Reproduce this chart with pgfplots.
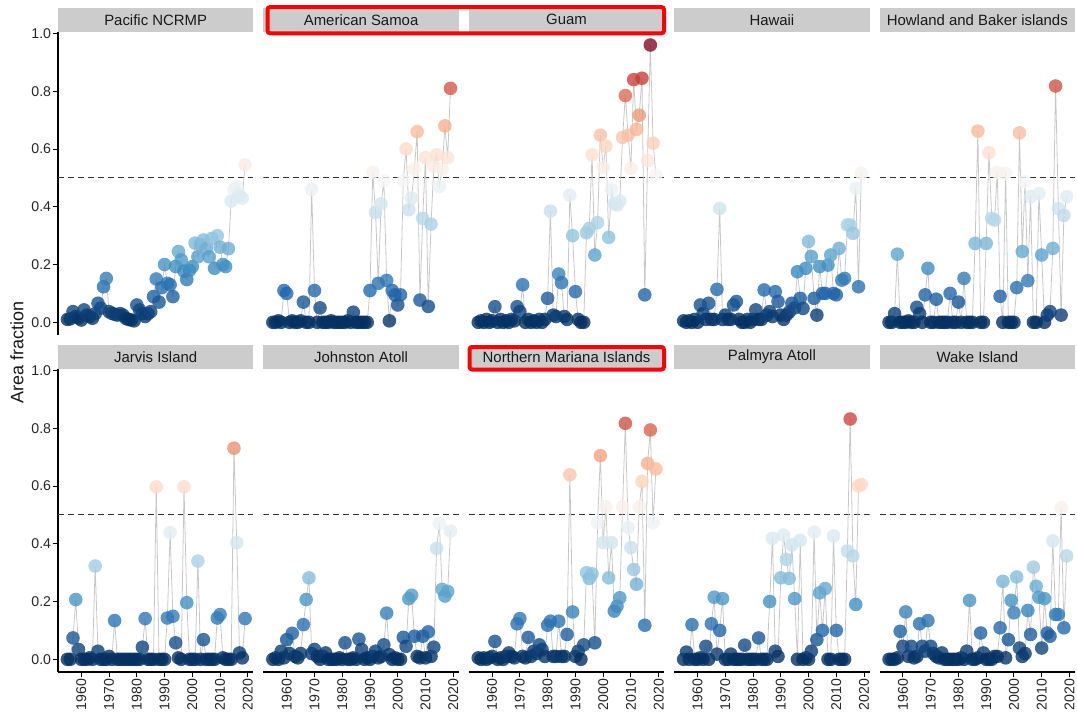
\documentclass[border=0pt]{standalone}
\usepackage{fontspec}
\setmainfont{Liberation Sans}
\usepackage{pgfplots}
\usepackage{pgfplotstable}
\pgfplotsset{compat=1.18}
\definecolor{stripgray}{RGB}{204,204,204}
\pgfplotsset{colormap={rdbu}{rgb255=(5,48,97) rgb255=(33,102,172) rgb255=(67,147,195) rgb255=(146,197,222) rgb255=(209,229,240) rgb255=(247,247,247) rgb255=(253,219,199) rgb255=(244,165,130) rgb255=(214,96,77) rgb255=(178,24,43) rgb255=(103,0,31)}}
\pgfplotstableread{
year pac ams gua haw how jar joh nmi pal wak
1955 .01 0 0 .005 0 0 0 .005 0 0
1956 .012 0 .005 0 0 0 .005 0 .025 0
1957 .037 .005 0 .005 .03 .074 0 .005 0 0
1958 .02 0 .01 0 .236 .207 .028 0 .12 .005
1959 .015 .11 0 .01 0 .034 .005 .005 0 .097
1960 .008 .10 .005 0 0 0 .068 .01 0 .045
1961 .043 0 .054 .06 0 0 .02 .062 .005 .164
1962 .025 .005 0 .03 .005 0 .09 0 0 .01
1963 .02 0 .01 .01 0 .005 .01 .005 .045 .045
1964 .014 0 0 .066 0 0 .005 0 0 .005
1965 .03 .005 .005 .01 .052 .323 .02 .01 .123 .01
1966 .066 .07 0 .01 .03 .028 .12 .022 .215 .123
1967 .049 0 .01 .114 0 0 .207 .01 .018 .045
1968 .123 0 .005 .394 .095 0 .282 .005 .1 .028
1969 .152 .46 .054 .01 .187 0 .02 .123 .21 .134
1970 .037 .11 .037 .025 0 .01 .034 .141 0 .045
1971 .031 0 .13 .01 0 0 .01 .01 0 .02
1972 .028 .05 0 .01 .08 .134 0 .005 .018 .01
1973 .025 0 .01 .06 0 0 .01 .076 0 .005
1974 .03 0 0 .072 0 0 .022 .01 0 .022
1975 .025 0 .005 .01 0 0 0 .028 0 0
1976 .014 .005 0 0 0 0 0 .02 0 0
1977 .01 0 .01 0 .1 0 0 .05 .049 0
1978 .008 0 0 .01 0 0 0 .034 0 0
1979 .005 0 .01 0 0 0 .005 .01 0 0
1980 .06 0 .083 .01 .07 0 0 .118 0 0
1981 .043 0 .385 .043 0 0 .057 .132 0 .005
1982 .03 .005 .025 .01 .152 .042 0 .01 .074 0
1983 .02 0 .02 .01 0 .141 0 .01 0 .028
1984 .03 .035 .167 .112 0 0 .005 .132 0 .204
1985 .037 0 .137 .025 0 0 0 .01 0 0
1986 .089 0 .02 .037 .273 0 .07 .01 .2 0
1987 .15 0 .01 .02 .662 .597 .034 .086 .419 .005
1988 .07 0 .44 .106 0 0 0 .639 .028 .091
1989 .12 0 .3 .072 0 0 .005 .164 .01 .022
1990 .2 .11 .106 .025 .273 0 0 .01 .282 0
1991 .135 .52 .01 .01 .587 .143 .01 .028 .43 0
1992 .13 .38 0 .025 .36 .439 .028 0 .346 0
1993 .089 .135 0 .035 .354 .149 .005 .05 .28 .01
1994 .193 .41 .31 .066 .52 .057 .01 .3 .396 .01
1995 .245 .49 .325 .05 .09 .005 .05 .28 .21 .109
1996 .216 .145 .58 .175 0 0 .16 .296 0 .27
1997 .177 .005 .233 .083 .516 .597 .016 .057 .412 .005
1998 .148 .11 .345 .048 0 .196 0 .473 0 .068
1999 .18 .095 .648 .187 0 0 .005 .705 .005 .204
2000 .193 .06 .537 .28 0 0 0 .404 0 .161
2001 .274 .095 .61 .228 .12 0 0 .528 .028 .285
2002 .227 .49 .294 .083 .656 .34 .076 .282 .44 .039
2003 .27 .6 .46 .025 .245 0 .045 .404 .068 .01
2004 .285 .39 .41 .193 .487 .068 .21 .167 .23 .02
2005 .255 .43 .406 .1 .144 0 .222 .184 .1 .169
2006 .227 .53 .42 .1 .435 0 .08 .213 .245 .086
2007 .29 .66 .64 .198 0 0 .01 .528 0 .319
2008 .187 .077 .785 .233 0 0 .005 .817 0 .253
2009 .3 .36 .648 .1 .446 .143 .08 .456 .427 .215
2010 .26 .57 .533 .095 .233 .155 .005 .387 .1 .039
2011 .2 .055 .84 .256 0 .005 .095 .311 0 .21
2012 .193 .34 .668 .146 .025 0 .01 .26 0 .091
2013 .255 .54 .717 .152 .037 0 .042 .528 0 .08
2014 .42 .58 .845 .337 .256 0 .384 .616 .375 .41
2015 .46 .47 .095 .337 .818 .731 .47 .118 .832 .155
2016 .47 .53 .56 .308 .394 .404 .242 .678 .358 .155
2017 .44 .68 .96 .464 .025 .022 .219 .794 .19 .525
2018 .43 .57 .62 .123 .37 .005 .235 .473 .6 .109
2019 .545 .81 .51 .516 .435 .141 .444 .659 .605 .358
}\datatbl

\pgfplotsset{
  panel/.style={
    scale only axis, width=146.55pt, height=227.25pt,
    xmin=1951.6, xmax=2022, ymin=-0.044, ymax=1.005,
    axis x line*=bottom, axis y line*=left,
    axis line style={black, line width=0.9pt},
    tick align=outside, major tick length=4pt,
    tick style={black, line width=0.7pt},
    xtick={1960,1970,1980,1990,2000,2010,2020},
    xticklabels={1960,1970,1980,1990,2000,2010,2020},
    ytick={0,0.2,0.4,0.6,0.8,1},
    yticklabels={0.0,0.2,0.4,0.6,0.8,1.0},
    ticklabel style={font=\fontsize{10.6}{12}\selectfont, text=black!85},
    xticklabel style={rotate=90, anchor=east, inner sep=1pt},
    yticklabel style={inner sep=1pt},
    colormap name=rdbu, point meta min=0, point meta max=1,
  },
  noy/.style={y axis line style={draw=none}, ymajorticks=false},
  nox/.style={x axis line style={draw=none}, xmajorticks=false},
}

\newcommand\panel[4]{%
\begin{axis}[panel, at={(#1,#2)}, anchor=north west, #4]
\addplot[black!80, dash pattern=on 4.5pt off 3pt, line width=0.7pt, forget plot] coordinates {(1951.6,0.5) (2022,0.5)};
\addplot[no marks, black!22, line width=0.6pt] table[x=year,y=#3]{\datatbl};
\addplot[scatter, only marks, mark=*, mark size=5.1pt, scatter src=y,
  mark options={draw opacity=0, fill opacity=0.8},
  scatter/use mapped color={draw=mapped color, fill=mapped color, draw opacity=0, fill opacity=0.8}]
  table[x=year,y=#3]{\datatbl};
\end{axis}}

\begin{document}
\begin{tikzpicture}
\path[use as bounding box] (0pt,0pt) rectangle (807.75pt,-539.25pt);
\panel{43.5pt}{-24pt}{pac}{nox}
\panel{197.55pt}{-24pt}{ams}{nox,noy}
\panel{351.6pt}{-24pt}{gua}{nox,noy}
\panel{505.65pt}{-24pt}{haw}{nox,noy}
\panel{659.7pt}{-24pt}{how}{nox,noy}
\panel{43.5pt}{-276.75pt}{jar}{}
\panel{197.55pt}{-276.75pt}{joh}{noy}
\panel{351.6pt}{-276.75pt}{nmi}{noy}
\panel{505.65pt}{-276.75pt}{pal}{noy}
\panel{659.7pt}{-276.75pt}{wak}{noy}
\begin{scope}[x=0.75pt,y=-0.75pt]
  \def\sfont{\fontsize{11.2}{13}\selectfont}
  \foreach \xx/\lab in {58/Pacific NCRMP, 263.4/American Samoa, 468.8/Guam, 674.2/Hawaii, 879.6/Howland and Baker islands}{
    \fill[stripgray] (\xx,8) rectangle ++(195.4,23.5);
    \node[font=\sfont, text=black!90] at (\xx+97.7,19.75) {\lab};
  }
  \foreach \xx/\lab in {58/Jarvis Island, 263.4/Johnston Atoll, 468.8/Northern Mariana Islands, 674.2/Palmyra Atoll, 879.6/Wake Island}{
    \fill[stripgray] (\xx,345) rectangle ++(195.4,23.5);
    \node[font=\sfont, text=black!90] at (\xx+97.7,356.75) {\lab};
  }
  \draw[red, line width=3pt, rounded corners=2pt] (267.5,7) rectangle (664,33.3);
  \draw[red, line width=3pt, rounded corners=2pt] (469.5,347) rectangle (664,369.5);
  \node[rotate=90, font=\fontsize{13.5}{16}\selectfont, text=black!90] at (17,352) {Area fraction};
\end{scope}
\end{tikzpicture}
\end{document}
